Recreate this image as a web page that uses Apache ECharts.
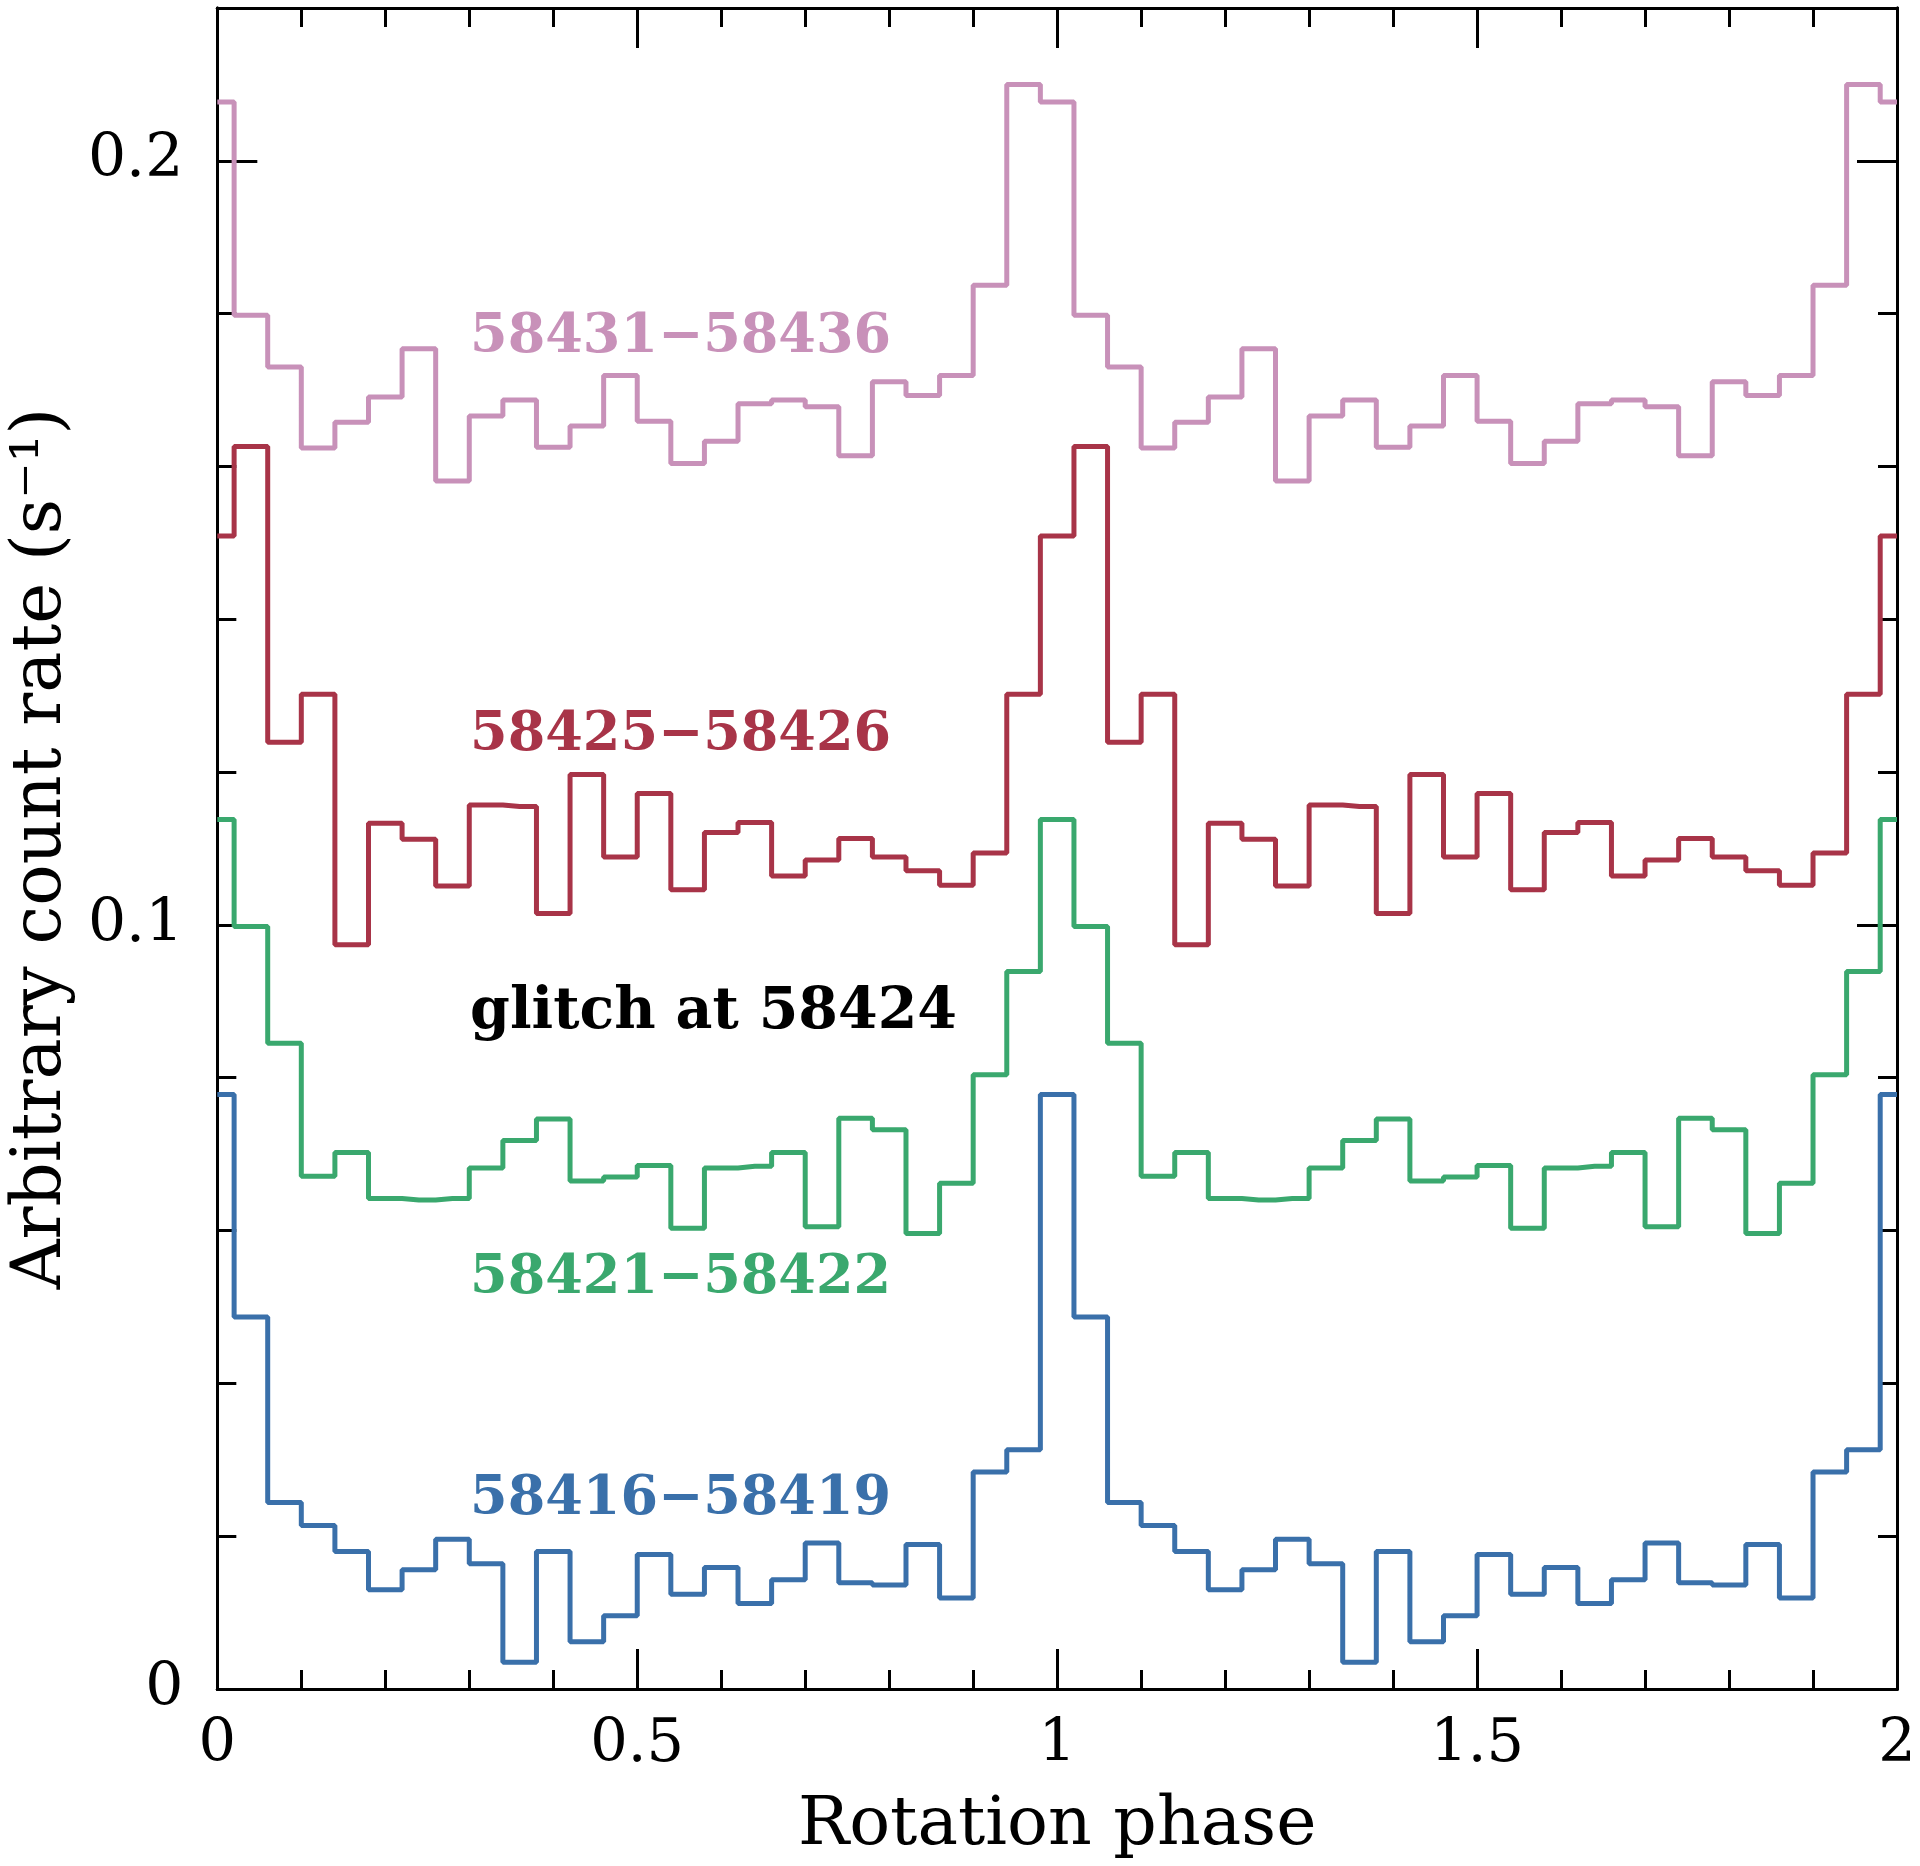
<!DOCTYPE html>
<html>
<head>
<meta charset="utf-8">
<script src="https://cdn.jsdelivr.net/npm/echarts@6/dist/echarts.min.js"></script>
<style>
  html, body { margin: 0; padding: 0; background: #ffffff; }
  #chart { width: 1920px; height: 1866px; }
</style>
</head>
<body>
<div id="chart"></div>
<script>
// Phase bin centres of one rotation cycle (25 bins of width 0.04)
const binCentres = [0.00, 0.04, 0.08, 0.12, 0.16, 0.20, 0.24, 0.28, 0.32, 0.36,
                    0.40, 0.44, 0.48, 0.52, 0.56, 0.60, 0.64, 0.68, 0.72, 0.76,
                    0.80, 0.84, 0.88, 0.92, 0.96];
const cyclesShown = [0, 1];

// Count-rate profiles (s^-1), one value per phase bin
const rate58431_58436 = [0.2077, 0.1798, 0.1730, 0.1624, 0.1658, 0.1691, 0.1754, 0.1581, 0.1666, 0.1687,
                         0.1625, 0.1653, 0.1719, 0.1659, 0.1604, 0.1633, 0.1682, 0.1687, 0.1678, 0.1614,
                         0.1711, 0.1693, 0.1719, 0.1837, 0.2100];
const rate58425_58426 = [0.1509, 0.1626, 0.1239, 0.1302, 0.0974, 0.1133, 0.1112, 0.1051, 0.1157, 0.1155,
                         0.1015, 0.1197, 0.1089, 0.1172, 0.1046, 0.1121, 0.1134, 0.1064, 0.1085, 0.1113,
                         0.1089, 0.1071, 0.1052, 0.1094, 0.1302];
const rate58421_58422 = [0.1138, 0.0998, 0.0845, 0.0671, 0.0702, 0.0642, 0.0640, 0.0642, 0.0682, 0.0718,
                         0.0746, 0.0665, 0.0670, 0.0685, 0.0603, 0.0682, 0.0684, 0.0702, 0.0605, 0.0747,
                         0.0732, 0.0596, 0.0662, 0.0804, 0.0939];
const rate58416_58419 = [0.0778, 0.0487, 0.0244, 0.0214, 0.0180, 0.0130, 0.0156, 0.0196, 0.0164, 0.0035,
                         0.0180, 0.0062, 0.0096, 0.0176, 0.0124, 0.0159, 0.0112, 0.0143, 0.0191, 0.0139,
                         0.0136, 0.0189, 0.0119, 0.0284, 0.0313];

const seriesNames = ['58431\u221258436', '58425\u221258426', '58421\u221258422', '58416\u221258419'];
const seriesColors = ['#C891B9', '#A83448', '#3AA86E', '#3A70AA'];
const seriesRates = [rate58431_58436, rate58425_58426, rate58421_58422, rate58416_58419];
// label anchor (phase, rate) for each profile name
const labelPhase = [0.301, 0.301, 0.301, 0.301];
const labelRate = [0.1768, 0.1247, 0.0536, 0.0248];
const glitchText = 'glitch at 58424';
const glitchAnchor = [0.301, 0.0885];

const xTickLabels = ['0', '0.5', '1', '1.5', '2'];
const yTickLabels = ['0', '0.1', '0.2'];

// two cycles of phase, closing at phase 2 with the first bin again
function profileData(rates) {
  const pts = [];
  cyclesShown.forEach(function (c) {
    binCentres.forEach(function (p, i) { pts.push([c + p, rates[i]]); });
  });
  pts.push([cyclesShown.length + binCentres[0], rates[0]]);
  return pts;
}

const serifFont = '"DejaVu Serif", "Liberation Serif", serif';
const black = '#000000';

function xAxisDef(position, interval, tickLen, showLabels, name) {
  return {
    type: 'value', min: 0, max: 2, interval: interval, position: position,
    axisLine: { show: true, onZero: false, lineStyle: { color: black, width: 3 } },
    axisTick: { show: true, inside: true, length: tickLen, lineStyle: { color: black, width: 3 } },
    axisLabel: {
      show: showLabels, margin: 27, color: black, fontFamily: serifFont, fontSize: 59,
      formatter: function (v) {
        const s = String(Math.round(v * 10) / 10);
        return xTickLabels.indexOf(s) >= 0 ? s : '';
      }
    },
    splitLine: { show: false },
    name: name || '', nameLocation: 'middle', nameGap: 103,
    nameTextStyle: { color: black, fontFamily: serifFont, fontSize: 68 }
  };
}
function yAxisDef(position, interval, tickLen, showLabels, name) {
  return {
    type: 'value', min: 0, max: 0.22, interval: interval, position: position,
    axisLine: { show: true, onZero: false, lineStyle: { color: black, width: 3 } },
    axisTick: { show: true, inside: true, length: tickLen, lineStyle: { color: black, width: 3 } },
    axisLabel: {
      show: showLabels, margin: 34, color: black, fontFamily: serifFont, fontSize: 60,
      formatter: function (v) {
        const s = String(Math.round(v * 100) / 100);
        return yTickLabels.indexOf(s) >= 0 ? s : '';
      }
    },
    splitLine: { show: false },
    name: name || '', nameLocation: 'middle', nameGap: 136,
    nameTextStyle: { color: black, fontFamily: serifFont, fontSize: 69 }
  };
}

const series = seriesRates.map(function (rates, k) {
  const s = {
    type: 'line', name: seriesNames[k], step: 'middle', showSymbol: false, symbol: 'none',
    xAxisIndex: 0, yAxisIndex: 0, data: profileData(rates),
    lineStyle: { color: seriesColors[k], width: 5 },
    itemStyle: { color: seriesColors[k] },
    animation: false, silent: true,
    markPoint: {
      symbol: 'circle', symbolSize: 0, silent: true, animation: false,
      data: [{ coord: [labelPhase[k], labelRate[k]], value: 0 }],
      label: {
        show: true, position: 'right', distance: 0, formatter: seriesNames[k],
        color: seriesColors[k], fontFamily: serifFont, fontWeight: 'bold', fontSize: 54
      }
    }
  };
  if (k === 1) {
    s.markPoint.data.push({
      coord: glitchAnchor, value: 0,
      label: { formatter: glitchText, color: black, fontSize: 57 }
    });
  }
  return s;
});

const chart = echarts.init(document.getElementById('chart'), null, { renderer: 'canvas' });
chart.setOption({
  backgroundColor: '#ffffff',
  animation: false,
  grid: { left: 214, right: 23, top: 8, bottom: 177, containLabel: false },
  xAxis: [
    xAxisDef('bottom', 0.1, 19, false),
    xAxisDef('bottom', 0.5, 40, true, 'Rotation phase'),
    xAxisDef('top', 0.1, 19, false),
    xAxisDef('top', 0.5, 40, false)
  ],
  yAxis: [
    yAxisDef('left', 0.02, 19, false),
    yAxisDef('left', 0.1, 40, true, 'Arbitrary count rate (s\u207B\u00B9)'),
    yAxisDef('right', 0.02, 19, false),
    yAxisDef('right', 0.1, 40, false)
  ],
  series: series
});
</script>
</body>
</html>
